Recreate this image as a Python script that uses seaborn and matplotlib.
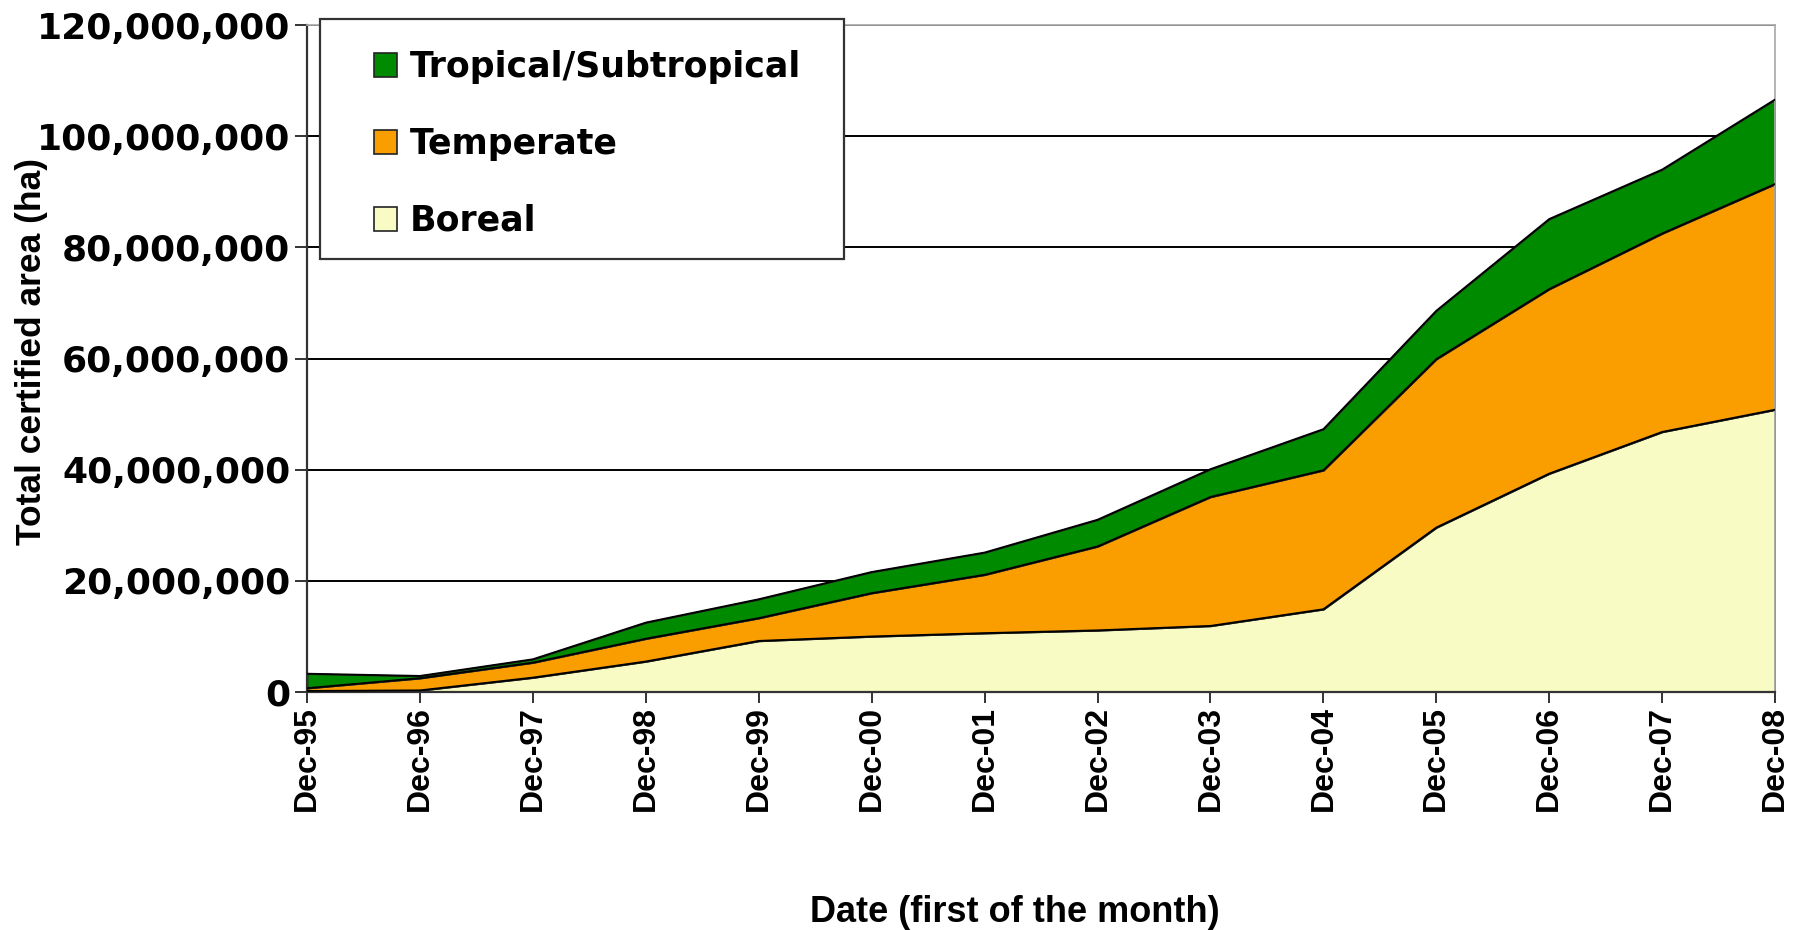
import matplotlib
matplotlib.use("Agg")
import matplotlib.pyplot as plt
import seaborn as sns
import numpy as np
import pandas as pd
from matplotlib.ticker import FuncFormatter
from matplotlib.patches import Rectangle

# values (hectares, millions)
dates = ["Dec-95", "Dec-96", "Dec-97", "Dec-98", "Dec-99", "Dec-00", "Dec-01",
         "Dec-02", "Dec-03", "Dec-04", "Dec-05", "Dec-06", "Dec-07", "Dec-08"]
boreal = [0.2, 0.3, 2.6, 5.5, 9.2, 10.0, 10.6, 11.1, 11.9, 14.9, 29.6, 39.3, 46.8, 50.8]
temperate = [0.5, 2.2, 2.7, 4.1, 4.1, 7.8, 10.5, 15.1, 23.2, 25.0, 30.3, 33.2, 35.7, 40.6]
tropical = [2.6, 0.4, 0.6, 2.9, 3.4, 3.8, 4.0, 4.8, 5.0, 7.4, 8.7, 12.6, 11.5, 15.2]

labels = ["Boreal", "Temperate", "Tropical/Subtropical"]
colors = ["#F8FCC4", "#FA9E00", "#008A00"]

sns.set_theme(style="white")
plt.rcParams['font.family'] = ['Liberation Sans', 'DejaVu Sans']
plt.rcParams['text.color'] = 'black'
plt.rcParams['axes.labelcolor'] = 'black'
plt.rcParams['xtick.color'] = 'black'
plt.rcParams['ytick.color'] = 'black'

df = pd.DataFrame({"x": np.arange(len(dates)),
                   "Boreal": np.array(boreal) * 1e6,
                   "Temperate": np.array(temperate) * 1e6,
                   "Tropical/Subtropical": np.array(tropical) * 1e6})

fig = plt.figure(figsize=(17.99, 9.30), dpi=100)
ax = fig.add_axes([0.1707, 0.2559, 0.816, 0.7172])

ax.stackplot(df["x"], df["Boreal"], df["Temperate"], df["Tropical/Subtropical"],
             colors=colors, labels=labels, edgecolor="none", zorder=2)

# outlines of each stacked layer
cum = df[labels].cumsum(axis=1)
for col in labels:
    sns.lineplot(x=df["x"], y=cum[col], color="black", linewidth=1.3, ax=ax, zorder=3)

ax.set_xlim(0, len(dates) - 1)
ax.set_ylim(0, 120e6)
ax.set_yticks(np.arange(0, 120e6 + 1, 20e6))
ax.yaxis.set_major_formatter(FuncFormatter(lambda v, p: f"{int(v):,}"))
ax.set_xticks(df["x"])
ax.set_xticklabels(dates, rotation=90, fontsize=23, fontweight="bold")
for t in ax.get_yticklabels():
    t.set_fontfamily("DejaVu Sans")
    t.set_fontweight("bold")
    t.set_fontsize(26)

ax.grid(axis="y", color="black", linewidth=1.4, zorder=1)
ax.set_axisbelow(True)
ax.tick_params(axis="y", which="major", direction="out", length=9, width=1.4,
               color="#333333", left=True, pad=3)
ax.tick_params(axis="x", which="major", direction="out", length=8, width=1.4,
               color="#333333", bottom=True, pad=2)

ax.spines["left"].set_color("#333333")
ax.spines["left"].set_linewidth(1.6)
ax.spines["bottom"].set_color("#333333")
ax.spines["bottom"].set_linewidth(1.6)
ax.spines["top"].set_color("#aaaaaa")
ax.spines["right"].set_color("#aaaaaa")

ax.set_ylabel("Total certified area (ha)", fontsize=25.5, fontweight="bold", va="center")
ax.yaxis.set_label_coords(-0.188, 0.51)
ax.set_xlabel("Date (first of the month)", fontsize=26, fontweight="bold", va="center")
ax.xaxis.set_label_coords(0.482, -0.33)

# legend box drawn separately so its padding can match the original
box = Rectangle((0.0089, 0.649), 0.357, 0.36, transform=ax.transAxes,
                facecolor="white", edgecolor="#333333", linewidth=1.6,
                zorder=4, clip_on=False)
ax.add_patch(box)

handles, lbls = ax.get_legend_handles_labels()
for h in handles:
    h.set_edgecolor("#222222")
    h.set_linewidth(1.2)
leg = ax.legend(handles[::-1], lbls[::-1], loc="upper left",
                bbox_to_anchor=(0.0455, 0.962), frameon=False,
                prop={"family": "DejaVu Sans", "weight": "bold", "size": 25},
                handlelength=0.68, handleheight=0.68, handletextpad=0.36,
                labelspacing=1.23, borderpad=0, borderaxespad=0)
leg.set_zorder(5)

fig.savefig("out.png", dpi=100, facecolor="white")
